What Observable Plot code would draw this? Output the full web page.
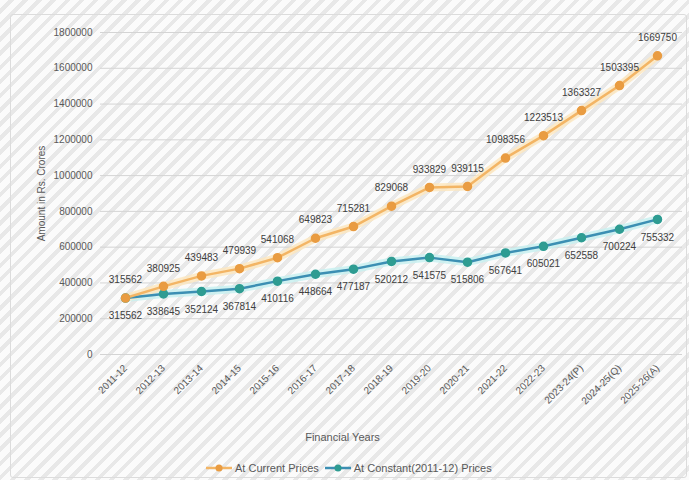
<!DOCTYPE html>
<html><head><meta charset="utf-8">
<script src="https://cdn.jsdelivr.net/npm/d3@7"></script>
<script src="https://cdn.jsdelivr.net/npm/@observablehq/plot@0.6"></script>
<style>
body{margin:0;}
#wrap{position:relative;width:689px;height:480px;overflow:hidden;font-family:"Liberation Sans",Arial,sans-serif;
background: repeating-linear-gradient(135deg, #fbfbfb 0px, #fbfbfb 6px, #e8e8e8 6px, #e8e8e8 10px);}
#frame{position:absolute;left:10px;top:14px;right:2px;bottom:2px;border:1px solid #dcdcdc;border-radius:3px;pointer-events:none;}
#legend{height:24px;display:flex;align-items:center;padding-left:206px;font-size:11px;color:#595959;}
#legend .item{display:flex;align-items:center;margin-right:6px;}
#legend svg{margin-right:3px;}
</style></head>
<body>
<div id="wrap"><div id="frame"></div><div id="chart"></div><div id="legend"></div></div>
<script>
const years = ["2011-12","2012-13","2013-14","2014-15","2015-16","2016-17","2017-18","2018-19","2019-20","2020-21","2021-22","2022-23","2023-24(P)","2024-25(Q)","2025-26(A)"];
const currentPrices = [315562,380925,439483,479939,541068,649823,715281,829068,933829,939115,1098356,1223513,1363327,1503395,1669750];
const constantPrices = [315562,338645,352124,367814,410116,448664,477187,520212,541575,515806,567641,605021,652558,700224,755332];
const yTicks = [0,200000,400000,600000,800000,1000000,1200000,1400000,1600000,1800000];
const seriesNames = ["At Current Prices","At Constant(2011-12) Prices"];
const colors = {curLine:"#f3b565", curDot:"#e99c42", curGlow:"#fde6bd", conLine:"#3c8fb3", conDot:"#2e9c92", conGlow:"#c6f0f0"};

const cur = years.map((year,i)=>({year, value: currentPrices[i]}));
const con = years.map((year,i)=>({year, value: constantPrices[i]}));

const chart = Plot.plot({
  width: 689, height: 456,
  marginTop: 32, marginBottom: 102, marginLeft: 100, marginRight: 7,
  style: {background:"transparent", fontFamily:"Liberation Sans, Arial, sans-serif", fontSize:"10px", color:"#595959"},
  x: {type:"point", domain: years, padding: 0.5},
  y: {domain:[0,1800000]},
  marks: [
    Plot.gridY(yTicks, {stroke:"#d4d4d4", strokeOpacity:1}),
    Plot.axisY(yTicks, {tickSize:0, tickPadding:8, tickFormat: d=>String(d), fontSize:10, label:"Amount in Rs. Crores", labelAnchor:"center", labelOffset:63, labelArrow:"none"}),
    Plot.axisX({tickSize:0, tickRotate:-45, tickPadding:12, label:null, fontSize:10}),
    Plot.text(["Financial Years"], {frameAnchor:"bottom", dx:-49, dy:86, fontSize:11, fill:"#595959"}),
    Plot.line(con, {x:"year", y:"value", stroke:colors.conGlow, strokeWidth:8, strokeOpacity:0.8}),
    Plot.line(cur, {x:"year", y:"value", stroke:colors.curGlow, strokeWidth:8, strokeOpacity:0.8}),
    Plot.line(con, {x:"year", y:"value", stroke:colors.conLine, strokeWidth:2.5}),
    Plot.line(cur, {x:"year", y:"value", stroke:colors.curLine, strokeWidth:2.5}),
    Plot.dot(con, {x:"year", y:"value", r:4, fill:colors.conDot, stroke:colors.conDot}),
    Plot.dot(cur, {x:"year", y:"value", r:4, fill:colors.curDot, stroke:colors.curDot}),
    Plot.text(cur, {x:"year", y:"value", text:d=>String(d.value), dy:-18, fill:"#404040", fontSize:10}),
    Plot.text(con, {x:"year", y:"value", text:d=>String(d.value), dy:18, fill:"#404040", fontSize:10})
  ]
});
document.getElementById("chart").appendChild(chart);

const legend = document.getElementById("legend");
[[seriesNames[0], colors.curLine, colors.curDot],[seriesNames[1], colors.conLine, colors.conDot]].forEach(([name, lc, dc])=>{
  const item = document.createElement("div"); item.className="item";
  item.innerHTML = `<svg width="26" height="10"><line x1="0" y1="5" x2="26" y2="5" stroke="${lc}" stroke-width="2.5"/><circle cx="13" cy="5" r="3.5" fill="${dc}"/></svg><span>${name}</span>`;
  legend.appendChild(item);
});
</script>
</body></html>
